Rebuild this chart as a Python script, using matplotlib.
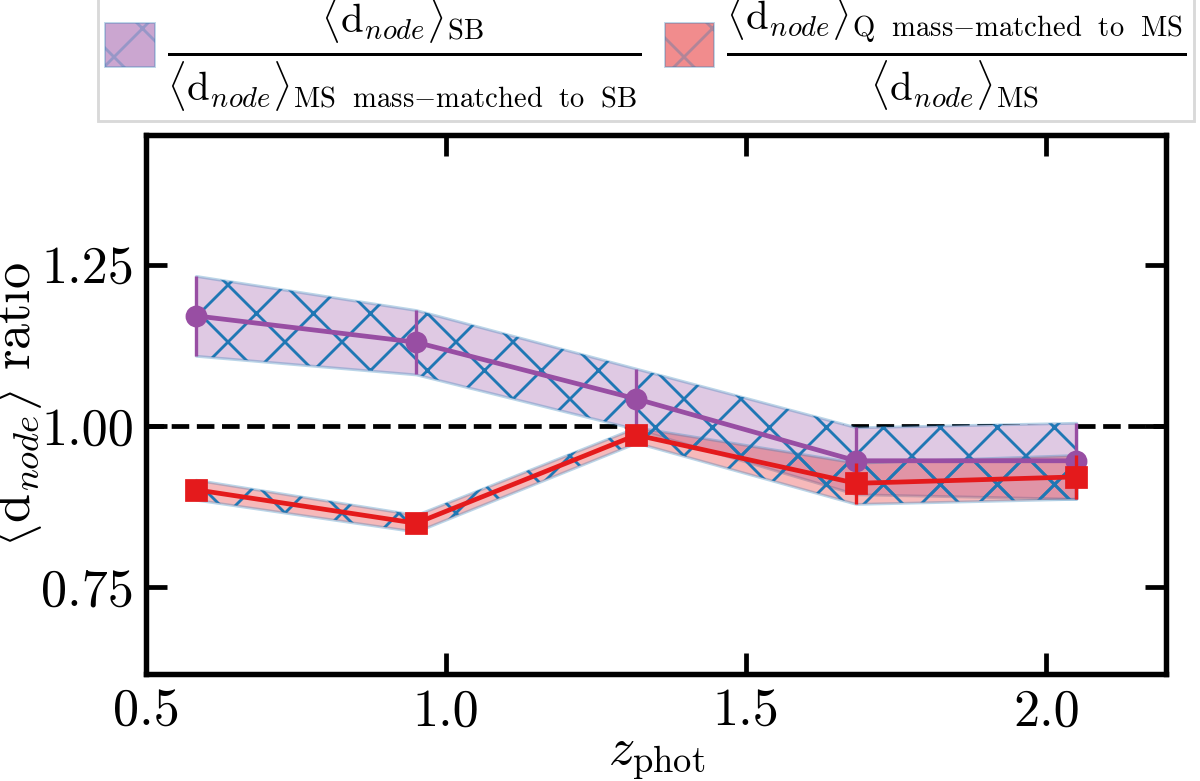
import matplotlib
matplotlib.use('Agg')
import matplotlib.pyplot as plt
from matplotlib.patches import Patch
import numpy as np

# values
z_phot = [0.583, 0.95, 1.317, 1.683, 2.05]

sb_ratio = [1.171, 1.130, 1.042, 0.946, 0.946]
sb_err = [0.062, 0.050, 0.047, 0.052, 0.059]

q_ratio = [0.901, 0.849, 0.986, 0.911, 0.921]
q_err = [0.0155, 0.013, 0.012, 0.032, 0.034]

purple = '#984ea3'
red = '#e41a1c'
hatch_blue = '#1f77b4'

plt.rcParams['font.family'] = 'serif'
plt.rcParams['font.serif'] = ['cmr10']
plt.rcParams['mathtext.fontset'] = 'cm'
plt.rcParams['axes.formatter.use_mathtext'] = True
plt.rcParams['axes.unicode_minus'] = False
plt.rcParams['hatch.linewidth'] = 0.6
plt.rcParams['hatch.color'] = hatch_blue

dpi = 342
fig = plt.figure(figsize=(1200.3 / dpi, 781.3 / dpi), dpi=dpi)
ax = fig.add_axes([0.1217, 0.137, 0.8500, 0.690])

x = np.array(z_phot)
sb = np.array(sb_ratio)
sbe = np.array(sb_err)
q = np.array(q_ratio)
qe = np.array(q_err)

ax.axhline(1.0, color='k', ls='--', lw=1.0, zorder=1)

# bands: white underlay, tinted fill, then hatch on top
for y, e in [(sb, sbe), (q, qe)]:
    ax.fill_between(x, y - e, y + e, color='white', lw=0, zorder=1.5)
for y, e, c in [(sb, sbe, purple), (q, qe, red)]:
    ax.fill_between(x, y - e, y + e, facecolor=(c, 0.3),
                    edgecolor=(hatch_blue, 0.3), lw=0.6, zorder=2)
for y, e in [(sb, sbe), (q, qe)]:
    ax.fill_between(x, y - e, y + e, facecolor='none',
                    edgecolor=hatch_blue, hatch='xx', lw=0, zorder=2.1)

ax.errorbar(x, sb, yerr=sbe, color=purple, marker='o', ms=3.6, lw=1.0,
            elinewidth=0.7, capsize=0, zorder=3)
ax.errorbar(x, q, yerr=qe, color=red, marker='s', ms=3.6, lw=1.0,
            elinewidth=0.7, capsize=0, zorder=3.2)

ax.set_xlim(0.5, 2.2)
ax.set_ylim(0.615, 1.452)
ax.set_xticks([0.5, 1.0, 1.5, 2.0])
ax.set_xticklabels(['0.5', '1.0', '1.5', '2.0'])
ax.set_yticks([0.75, 1.00, 1.25])
ax.set_yticklabels(['0.75', '1.00', '1.25'])

for s in ax.spines.values():
    s.set_linewidth(1.15)
ax.tick_params(direction='in', top=True, right=True, length=4.5, width=1.0,
               labelsize=11)
ax.tick_params(axis='x', pad=3)
ax.tick_params(axis='y', pad=2.5)

ax.set_xlabel(r'$z_{\mathrm{phot}}$', fontsize=11, labelpad=0)
ax.set_ylabel(r'$\langle \mathrm{d}_{node} \rangle$ ratio', fontsize=11,
              labelpad=-0.5)

handles = [
    Patch(facecolor=(purple, 0.5), edgecolor=(hatch_blue, 0.3), hatch='xx', lw=0.4),
    Patch(facecolor=(red, 0.5), edgecolor=(hatch_blue, 0.3), hatch='xx', lw=0.4),
]
labels = [
    r'$\frac{\langle \mathrm{d}_{node} \rangle_{\mathrm{SB}}}'
    r'{\langle \mathrm{d}_{node} \rangle_{\mathrm{MS\ \ mass{-}matched\ \ to\ \ SB}}}$',
    r'$\frac{\langle \mathrm{d}_{node} \rangle_{\mathrm{Q\ \ mass{-}matched\ \ to\ \ MS}}}'
    r'{\langle \mathrm{d}_{node} \rangle_{\mathrm{MS}}}$',
]
leg = ax.legend(handles, labels, loc='lower center', bbox_to_anchor=(0.490, 1.026),
                ncol=2, fontsize=12.3, frameon=True, fancybox=False, framealpha=1,
                edgecolor='0.85', handlelength=0.85, handleheight=0.8,
                handletextpad=0.2, columnspacing=0.4, borderpad=0.12,
                borderaxespad=0)
leg.get_frame().set_linewidth(0.6)

fig.savefig('out.png', dpi=dpi)
